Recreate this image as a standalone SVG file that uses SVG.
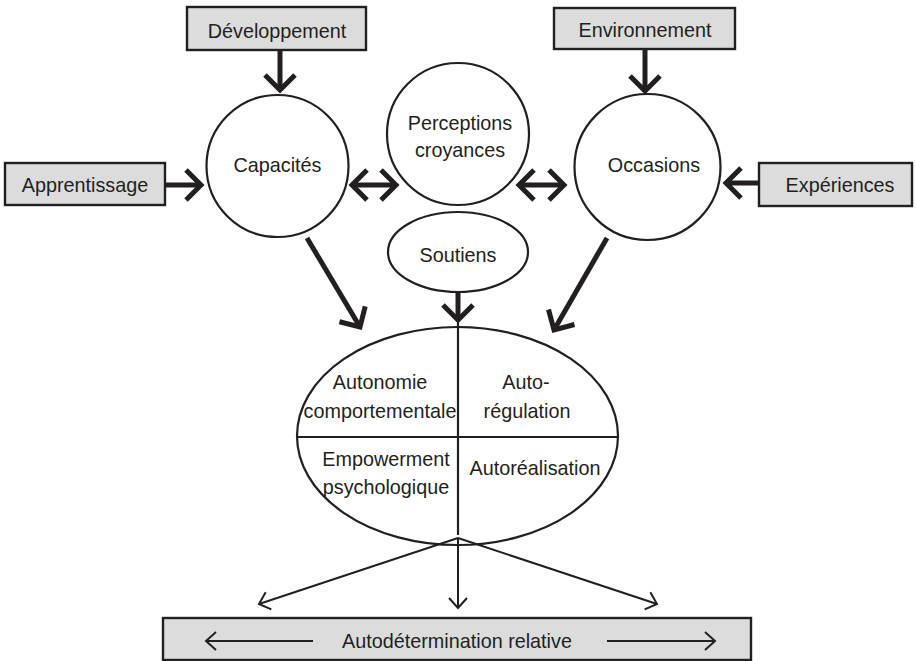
<svg xmlns="http://www.w3.org/2000/svg" width="916" height="661" viewBox="0 0 916 661">
<style>
text{font-family:"Liberation Sans",Arial,sans-serif;font-size:19.8px;fill:#231f20;text-anchor:middle}
.box{fill:#dcdcdd;stroke:#231f20;stroke-width:2.4}
.shape{fill:#fff;stroke:#231f20;stroke-width:2.2}
.thick{fill:none;stroke:#231f20;stroke-width:5;marker-end:url(#ah)}
.thin{fill:none;stroke:#231f20;stroke-width:2;marker-end:url(#ahs)}
.line{fill:none;stroke:#231f20;stroke-width:2.2}
</style>
<defs>
<marker id="ah" markerUnits="userSpaceOnUse" markerWidth="40" markerHeight="40" viewBox="-20 -20 40 40" refX="0" refY="0" orient="auto-start-reverse">
<path d="M-15,-15 L0,0 L-15,15" fill="none" stroke="#231f20" stroke-width="5"/>
</marker>
<marker id="ahs" markerUnits="userSpaceOnUse" markerWidth="30" markerHeight="30" viewBox="-15 -15 30 30" refX="0" refY="0" orient="auto-start-reverse">
<path d="M-10,-9 L0,0 L-10,9" fill="none" stroke="#231f20" stroke-width="2"/>
</marker>
</defs>
<rect width="916" height="661" fill="#fff"/>

<g id="connectors">
<line class="thick" x1="280" y1="50" x2="280" y2="90"/>
<line class="thick" x1="645" y1="49" x2="645" y2="91"/>
<line class="thick" x1="165" y1="185" x2="201" y2="185"/>
<line class="thick" x1="759" y1="183" x2="726" y2="183"/>
<line class="thick" x1="352" y1="185" x2="396" y2="185" style="marker-start:url(#ah)"/>
<line class="thick" x1="519" y1="185" x2="564" y2="185" style="marker-start:url(#ah)"/>
<line class="thick" x1="307" y1="238" x2="360" y2="327"/>
<line class="thick" x1="607" y1="238" x2="554" y2="330"/>
<line class="thick" x1="458" y1="292" x2="458" y2="320"/>
<line class="line" x1="458" y1="320" x2="458" y2="535"/>
<line class="thin" x1="458" y1="538" x2="259" y2="604"/>
<line class="thin" x1="458" y1="538" x2="458" y2="608"/>
<line class="thin" x1="458" y1="538" x2="657" y2="604"/>
</g>

<g id="developpement">
<rect class="box" x="187" y="7" width="179" height="43"/>
<text x="277" y="38">Développement</text>
</g>
<g id="environnement">
<rect class="box" x="554" y="8" width="181" height="41"/>
<text x="645" y="37">Environnement</text>
</g>
<g id="apprentissage">
<rect class="box" x="5" y="163" width="160" height="42"/>
<text x="85" y="192">Apprentissage</text>
</g>
<g id="experiences">
<rect class="box" x="759" y="163" width="153" height="43"/>
<text x="840" y="192">Expériences</text>
</g>
<g id="capacites">
<circle class="shape" cx="277.5" cy="166" r="71"/>
<text x="277.5" y="172">Capacités</text>
</g>
<g id="perceptions">
<circle class="shape" cx="458" cy="134" r="71"/>
<text x="460" y="130">Perceptions</text>
<text x="460" y="157">croyances</text>
</g>
<g id="occasions">
<circle class="shape" cx="647.5" cy="167" r="73"/>
<text x="654" y="172">Occasions</text>
</g>
<g id="soutiens">
<ellipse class="shape" cx="458" cy="252" rx="70" ry="40"/>
<text x="458" y="262">Soutiens</text>
</g>
<g id="autodetermination-components">
<ellipse class="shape" cx="457.5" cy="436" rx="160.5" ry="109" style="fill:none"/>
<line class="line" x1="297" y1="437" x2="618" y2="437"/>
<text x="380" y="389">Autonomie</text>
<text x="380" y="418">comportementale</text>
<text x="526" y="389">Auto-</text>
<text x="527" y="418">régulation</text>
<text x="386" y="466">Empowerment</text>
<text x="386" y="494">psychologique</text>
<text x="535" y="475">Autoréalisation</text>
</g>
<g id="autodetermination-relative">
<rect class="box" x="163" y="618" width="588" height="42"/>
<line class="thin" x1="313" y1="641" x2="206" y2="641"/>
<line class="thin" x1="607" y1="641" x2="715" y2="641"/>
<text x="457" y="648">Autodétermination relative</text>
</g>
</svg>
